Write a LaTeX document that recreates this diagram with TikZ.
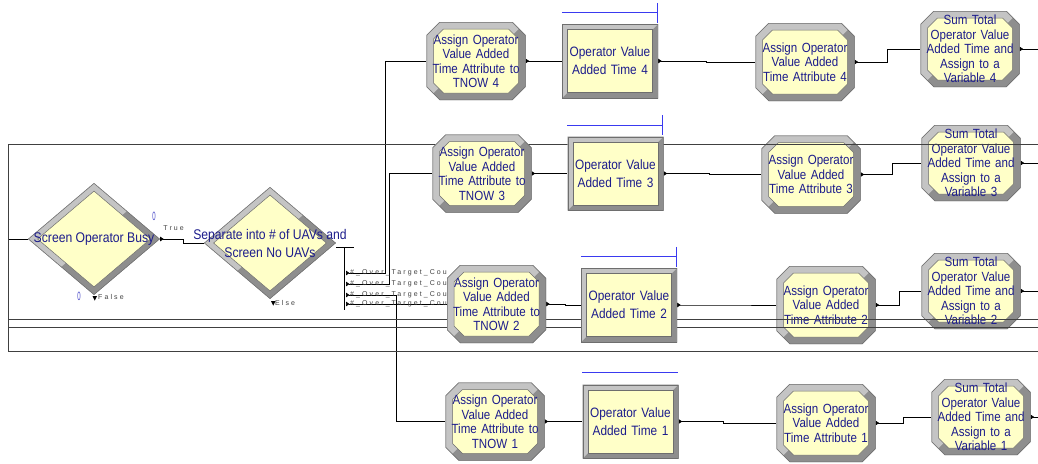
\documentclass[tikz,border=0pt]{standalone}
\usepackage{fontspec}
\setmainfont{Liberation Sans}
\newfontfamily\arenafont[FakeStretch=0.87]{Liberation Sans}
\newfontfamily\exitfont[LetterSpace=30]{Liberation Sans}
\usetikzlibrary{positioning,arrows.meta,shapes.geometric,backgrounds}
\definecolor{arfill}{HTML}{FFFFC8}
\definecolor{artext}{HTML}{1C1C8C}
\definecolor{bevlight}{HTML}{C4C4C4}
\definecolor{bevdark}{HTML}{8E8E8E}
\definecolor{bevedge}{HTML}{6E6E6E}
\definecolor{queueblue}{HTML}{3A3AF0}
\definecolor{countblue}{HTML}{4A4AC8}

% octagon inside the path picture box: #1 inset, #2 chamfer
\newcommand\octpath[2]{%
  ([shift={(#1pt+#2pt,-#1pt)}]bbnw) -- ([shift={(-#1pt-#2pt,-#1pt)}]bbne)
  -- ([shift={(-#1pt,-#1pt-#2pt)}]bbne) -- ([shift={(-#1pt,#1pt+#2pt)}]bbse)
  -- ([shift={(-#1pt-#2pt,#1pt)}]bbse) -- ([shift={(#1pt+#2pt,#1pt)}]bbsw)
  -- ([shift={(#1pt,#1pt+#2pt)}]bbsw) -- ([shift={(#1pt,-#1pt-#2pt)}]bbnw) -- cycle}
% bevelled frame: #1 band, #2 outer chamfer, #3 inner chamfer
\newcommand\bevelframe[3]{%
  \coordinate (bbnw) at (path picture bounding box.north west);
  \coordinate (bbne) at (path picture bounding box.north east);
  \coordinate (bbsw) at (path picture bounding box.south west);
  \coordinate (bbse) at (path picture bounding box.south east);
  \fill[bevdark] \octpath{0}{#2};
  \begin{scope}
    \clip \octpath{0}{#2};
    \fill[bevlight] (bbnw) -- (bbne) -- ([shift={(-16pt,-16pt)}]bbne)
      -- ([shift={(16pt,16pt)}]bbsw) -- (bbsw) -- cycle;
  \end{scope}
  \fill[arfill] \octpath{#1}{#3};
  \draw[bevedge, line width=0.5pt] \octpath{0.25}{#2};
  \draw[bevedge, line width=0.5pt] \octpath{#1}{#3};
}
% bevelled diamond: #1 x inset, #2 y inset
\newcommand\diaframe[2]{%
  \coordinate (bbnw) at (path picture bounding box.north west);
  \coordinate (bbne) at (path picture bounding box.north east);
  \coordinate (bbsw) at (path picture bounding box.south west);
  \coordinate (bbw) at (path picture bounding box.west);
  \coordinate (bbe) at (path picture bounding box.east);
  \coordinate (bbn) at (path picture bounding box.north);
  \coordinate (bbs) at (path picture bounding box.south);
  \fill[bevdark] (bbsw) rectangle (bbne);
  \fill[bevlight] (bbnw) -- (bbne) -- (bbsw) -- cycle;
  \fill[arfill] ([xshift=#1pt]bbw) -- ([yshift=-#2pt]bbn) -- ([xshift=-#1pt]bbe)
    -- ([yshift=#2pt]bbs) -- cycle;
  \draw[bevedge, line width=1pt] (bbw) -- (bbn) -- (bbe) -- (bbs) -- cycle;
  \draw[bevedge, line width=0.5pt] ([xshift=#1pt]bbw) -- ([yshift=-#2pt]bbn)
    -- ([xshift=-#1pt]bbe) -- ([yshift=#2pt]bbs) -- cycle;
}

\begin{document}
\begin{tikzpicture}[
  x=1pt, y=1pt,
  boxtext/.style={text=artext, align=center, inner sep=0pt,
                  font=\arenafont\fontsize{13.3}{14.5}\selectfont},
  assignbox/.style={boxtext, rectangle, minimum width=99pt, minimum height=78pt,
                    text width=97pt, path picture={\bevelframe{7}{13}{10}}},
  sumbox/.style={assignbox, minimum height=76pt},
  procbox/.style={boxtext, rectangle, minimum width=96pt, minimum height=74pt,
                  text width=94pt, font=\arenafont\fontsize{13.6}{18}\selectfont,
                  path picture={\bevelframe{5.5}{0}{0}}},
  decide/.style={diamond, minimum width=132pt, minimum height=112pt, inner sep=0pt,
                 path picture={\diaframe{9.5}{8}}},
  dtext/.style={text=artext, align=center, inner sep=0pt,
                font=\arenafont\fontsize{14}{18}\selectfont},
  flowline/.style={draw=black, line width=0.7pt},
  exitflow/.style={flowline, {Triangle[reversed,length=3.5pt,width=4.5pt]}-},
  queueline/.style={draw=queueblue, line width=1.1pt},
  frameline/.style={draw=black!75, line width=0.8pt},
  exitlbl/.style={font=\exitfont\fontsize{7}{8}\selectfont, text=black!75, inner sep=0pt},
  countlbl/.style={font=\fontsize{12}{12}\selectfont, text=countblue, inner sep=0pt},
]
\useasboundingbox (0,0) rectangle (1038,-463);

% ---- attribute and sum modules (the frame runs over them) ----
\node[assignbox] (attr4) at (805,-62)    {Assign Operator\\Value Added\\Time Attribute 4};
\node[assignbox] (attr3) at (811,-174.5) {Assign Operator\\Value Added\\Time Attribute 3};
\node[assignbox] (attr2) at (826,-305)   {Assign Operator\\Value Added\\Time Attribute 2};
\node[assignbox] (attr1) at (826,-423)   {Assign Operator\\Value Added\\Time Attribute 1};

\node[sumbox] (sum4) at (970,-49)  {Sum Total\\Operator Value\\Added Time and\\Assign to a\\Variable 4};
\node[sumbox] (sum3) at (971,-163) {Sum Total\\Operator Value\\Added Time and\\Assign to a\\Variable 3};
\node[sumbox] (sum2) at (971,-291) {Sum Total\\Operator Value\\Added Time and\\Assign to a\\Variable 2};
\node[sumbox] (sum1) at (981,-417) {Sum Total\\Operator Value\\Added Time and\\Assign to a\\Variable 1};

% ---- frame ----
\draw[frameline] (1038,-144) -- (8,-144) -- (8,-351) -- (1038,-351);
\draw[frameline] (8,-319) -- (1038,-319) (8,-327) -- (1038,-327);

% ---- separate exits ----
\coordinate (in0)  at (8,-239);
\coordinate (hubtop) at (344,-247);
\coordinate (hubbot) at (344,-310);
\coordinate (ex1) at (346,-273);
\coordinate (ex2) at (346,-284);
\coordinate (ex3) at (346,-295);
\coordinate (ex4) at (346,-304);
\foreach \k in {1,...,4}
  \node[exitlbl, anchor=west] (over\k) at ([xshift=4pt]ex\k) {\#\_Over\_Target\_Cou};

% ---- TNOW and process modules ----
\node[assignbox] (tnow4) at (476,-61)    {Assign Operator\\Value Added\\Time Attribute to\\TNOW 4};
\node[assignbox] (tnow3) at (482,-173.5) {Assign Operator\\Value Added\\Time Attribute to\\TNOW 3};
\node[assignbox] (tnow2) at (496.5,-304) {Assign Operator\\Value Added\\Time Attribute to\\TNOW 2};
\node[assignbox] (tnow1) at (495,-421.5) {Assign Operator\\Value Added\\Time Attribute to\\TNOW 1};

\node[procbox] (ovat4) at (610,-61)      {Operator Value\\Added Time 4};
\node[procbox] (ovat3) at (615.5,-173.5) {Operator Value\\Added Time 3};
\node[procbox] (ovat2) at (629,-305)     {Operator Value\\Added Time 2};
\node[procbox] (ovat1) at (630.5,-421.5) {Operator Value\\Added Time 1};

% ---- decide modules ----
\node[decide, label={[dtext]center:Screen Operator Busy}] (busy) at (94,-239) {};
\node[decide, label={[dtext]center:{Separate into \# of UAVs and\\Screen No UAVs}}] (separate) at (270,-243) {};

\node[countlbl] (busytrue)  at (154,-216) {\scalebox{0.5}[1]{0}};
\node[countlbl] (busyfalse) at (79,-296)  {\scalebox{0.5}[1]{0}};
\node[exitlbl, anchor=south west] (truelbl) at ([shift={(3pt,8.5pt)}]busy.east) {True};
\node[exitlbl, anchor=west] (falselbl) at ([shift={(4pt,-2pt)}]busy.south) {False};
\node[exitlbl, anchor=west] (elselbl) at ([shift={(5pt,-4pt)}]separate.south) {Else};
\fill ([shift={(-1.5pt,-1pt)}]busy.south) -- ++(4.5pt,0) -- ++(-2.25pt,-4.5pt) -- cycle;
\fill ([shift={(1pt,-2pt)}]separate.south) -- ++(4.5pt,0) -- ++(-2.25pt,-4.5pt) -- cycle;

% ---- queues ----
\foreach \i in {2,3,4}{
  \draw[queueline] ([yshift=11pt]ovat\i.north west) -- ([shift={(-1pt,11pt)}]ovat\i.north east);
  \draw[queueline] ([shift={(-1pt,21pt)}]ovat\i.north east) -- ([shift={(-1pt,1pt)}]ovat\i.north east);
}
\draw[queueline] ([yshift=12pt]ovat1.north west) -- ([shift={(-1pt,12pt)}]ovat1.north east);

% ---- connectors ----
\begin{scope}[on background layer]
\draw[flowline] (in0) -- (busy.west);
\draw[exitflow] (busy.east) -- ++(23pt,0) |- (separate.west);
\draw[flowline] ([yshift=-4pt]separate.east) -- ++(18pt,0);
\draw[flowline] (hubtop) -- (hubbot);
\draw[exitflow] (ex1) -- ++(39pt,0) |- (tnow4.west);
\draw[exitflow] (ex2) -- ++(43pt,0) |- (tnow3.west);
\draw[exitflow] (ex3) -- ++(50pt,0) |- (tnow1.west);
\draw[exitflow] (ex4) -- (tnow2.west);

\coordinate (out4) at (1038,-49);
\coordinate (out3) at (1038,-163);
\coordinate (out2) at (1038,-291);
\coordinate (out1) at (1038,-417);

\draw[exitflow] (tnow4.east) -- (ovat4.west);
\draw[exitflow] (ovat4.east) -- ++(48pt,0) |- (attr4.west);
\draw[exitflow] (attr4.east) -- ++(33pt,0) |- (sum4.west);
\draw[exitflow] (sum4.east) -- (out4);

\draw[exitflow] (tnow3.east) -- (ovat3.west);
\draw[exitflow] (ovat3.east) -- ++(46pt,0) |- (attr3.west);
\draw[exitflow] (attr3.east) -- ++(32pt,0) |- (sum3.west);
\draw[exitflow] (sum3.east) -- (out3);

\draw[exitflow] (tnow2.east) -- ++(19pt,0) |- (ovat2.west);
\draw[exitflow] (ovat2.east) -- ++(50pt,0) |- (attr2.west);
\draw[exitflow] (attr2.east) -- ++(24pt,0) |- (sum2.west);
\draw[exitflow] (sum2.east) -- (out2);

\draw[exitflow] (tnow1.east) -- (ovat1.west);
\draw[exitflow] (ovat1.east) -- ++(45pt,0) |- (attr1.west);
\draw[exitflow] (attr1.east) -- ++(28pt,0) |- (sum1.west);
\draw[exitflow] (sum1.east) -- (out1);
\end{scope}
\end{tikzpicture}
\end{document}
